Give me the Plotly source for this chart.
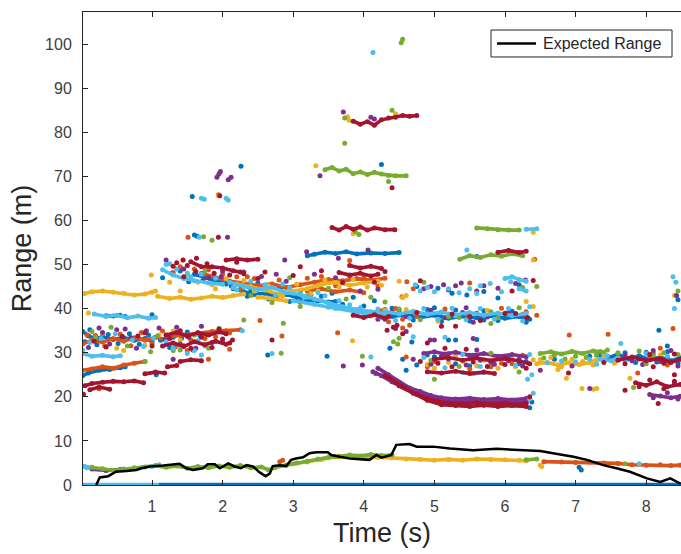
import plotly.graph_objects as go

# ---- radar returns, grouped by colour: tracks (runs of consecutive detections) and loose detections
BLUE_TRACKS = [
    [(0.02, 34.8), (0.1, 33.8), (0.2, 33.2), (0.3, 33.6), (0.45, 33.0), (0.6, 33.4), (0.75, 32.8), (0.9, 33.2), (1.0, 32.6)],
    [(0.02, 24.8), (0.1, 25.4), (0.25, 26.0), (0.4, 26.2), (0.55, 26.6), (0.62, 26.8)],
    [(0.35, 38.4), (0.45, 38.3), (0.55, 38.5)],
    [(1.6, 47.8), (1.75, 47.0), (1.9, 46.4), (2.05, 45.6)],
    [(2.15, 44.5), (2.3, 43.8), (2.45, 43.2), (2.6, 43.5), (2.75, 42.8), (2.9, 43.2), (3.05, 42.5), (3.2, 42.0), (3.35, 41.8), (3.5, 41.5), (3.6, 41.6)],
    [(3.2, 52.0), (3.3, 52.3), (3.45, 52.8), (3.6, 52.5), (3.75, 52.9), (3.9, 52.4), (4.1, 52.6), (4.3, 52.5), (4.5, 52.7)],
    [(4.2, 38.8), (4.4, 38.2), (4.6, 38.6), (4.8, 38.0), (5.0, 38.5), (5.2, 37.8), (5.4, 38.3), (5.6, 37.9), (5.8, 38.4), (6.0, 37.8), (6.2, 38.2), (6.35, 37.6)],
    [(7.3, 29.5), (7.45, 28.8), (7.6, 29.6), (7.75, 28.6), (7.9, 29.3), (8.05, 28.4), (8.2, 29.0), (8.35, 28.2), (8.48, 28.8)],
]
BLUE_DOTS = [
    (1.57, 65.4), (1.6, 56.7), (1.64, 56.4), (2.26, 72.3), (4.25, 72.7), (2.64, 29.5), (3.48, 29.2),
    (0.62, 38.2), (1.0, 38.6), (1.06, 25.0), (4.37, 31.0), (5.2, 32.9), (5.3, 32.9), (5.46, 43.1),
    (5.9, 42.4), (4.75, 45.0), (5.6, 51.8), (7.05, 4.0), (7.08, 3.4), (8.18, 35.1), (6.35, 17.5),
    (6.38, 18.8), (4.55, 28.5), (4.9, 29.5), (5.5, 27.0), (5.9, 28.8), (6.2, 27.5), (1.3, 33.5),
    (1.5, 34.7), (1.15, 47.0), (1.4, 48.5), (2.0, 46.5), (8.45, 42.0), (6.7, 28.5), (8.3, 31.5),
    (3.3, 41.2), (3.7, 40.8), (2.5, 44.6), (2.85, 44.9), (5.1, 39.2), (5.7, 37.4), (4.7, 39.3),
    # clutter clouds
    (0.05, 32.5), (0.12, 35.2), (0.22, 31.8), (0.38, 34.1), (0.52, 32.1), (0.68, 34.3), (0.82, 31.9),
    (0.95, 34.0), (1.12, 32.8), (1.25, 31.2), (1.42, 33.3), (1.58, 30.6), (1.68, 33.9),
    (1.28, 48.0), (1.52, 46.1), (1.82, 46.8), (2.12, 45.2),
    (2.2, 45.5), (2.35, 42.8), (2.5, 45.8), (2.65, 42.2), (2.8, 44.5), (2.95, 41.6), (3.1, 44.0),
    (3.25, 43.2), (3.4, 42.8), (3.55, 43.5), (3.7, 41.0), (3.85, 42.6), (4.0, 40.6), (4.15, 41.8),
    (4.3, 39.8), (2.4, 44.2), (3.0, 42.9),
    (4.3, 37.6), (4.5, 39.6), (4.7, 37.4), (4.9, 39.8), (5.1, 37.1), (5.3, 39.7), (5.5, 37.2),
    (5.7, 39.5), (5.9, 37.3), (6.1, 39.4), (6.3, 36.9), (4.4, 40.1), (5.0, 40.2),
    (5.05, 44.6), (5.25, 43.5), (5.7, 43.9), (6.2, 45.4), (4.68, 32.4), (5.6, 33.0),
    (4.75, 27.2), (5.0, 29.1), (5.3, 27.5), (5.55, 29.4), (5.8, 27.8), (6.05, 29.0), (6.3, 28.0), (4.6, 26.0),
    (7.2, 29.2), (7.35, 30.2), (7.55, 28.0), (7.7, 30.0), (7.85, 27.8), (8.0, 30.1), (8.15, 27.9),
    (8.3, 30.2), (8.45, 27.6),
]

ORANGE_TRACKS = [
    [(0.02, 32.0), (0.15, 32.8), (0.3, 32.4), (0.45, 33.2), (0.6, 32.6), (0.75, 33.4), (0.9, 32.8), (1.05, 33.5), (1.2, 33.0)],
    [(1.25, 33.6), (1.45, 34.0), (1.65, 34.5), (1.85, 34.8), (2.05, 35.0), (2.25, 35.2)],
    [(0.02, 26.0), (0.15, 26.3), (0.3, 26.8), (0.45, 26.5), (0.6, 27.2), (0.75, 27.6), (0.9, 28.0)],
    [(1.7, 48.0), (1.9, 47.0), (2.1, 46.2), (2.3, 45.8), (2.5, 45.2), (2.7, 45.6), (2.9, 44.8), (3.1, 45.4), (3.3, 46.0), (3.5, 46.6), (3.7, 46.3), (3.9, 46.8), (4.1, 46.4), (4.3, 46.9)],
    [(3.2, 44.0), (3.4, 44.5), (3.6, 43.8), (3.8, 44.2), (4.0, 43.6)],
    [(3.95, 39.6), (4.1, 39.0), (4.25, 39.5)],
    [(6.55, 5.3), (6.8, 5.2), (7.0, 5.1), (7.2, 5.2), (7.4, 5.0), (7.6, 4.9), (7.8, 4.6), (8.0, 4.5), (8.2, 4.6), (8.35, 4.4), (8.48, 4.5)],
]
ORANGE_DOTS = [
    (1.51, 56.2), (3.8, 50.9), (2.53, 37.3), (2.1, 34.5), (2.84, 33.8), (2.1, 30.8),
    (3.63, 34.5), (4.61, 46.1), (4.54, 42.7), (6.45, 38.5), (6.42, 51.2), (6.91, 34.0), (7.46, 34.2),
    (8.38, 35.5), (7.88, 25.4), (2.81, 5.3), (2.85, 5.6), (0.25, 21.8), (4.45, 40.0), (4.3, 38.5),
    (5.0, 28.0), (5.5, 28.7), (5.8, 26.8), (6.1, 27.5), (4.35, 37.0), (1.5, 30.5), (1.8, 28.5),
    (8.2, 31.0), (1.94, 65.8), (4.9, 38.9), (5.6, 39.0), (6.25, 38.7), (4.6, 29.0), (8.1, 29.8),
    # clutter clouds
    (0.08, 34.0), (0.2, 33.9), (0.33, 31.5), (0.55, 34.2), (0.7, 31.6), (0.85, 34.6), (1.0, 32.1),
    (1.15, 34.9), (1.33, 31.3), (1.55, 32.9), (1.75, 33.2), (1.9, 33.6), (2.0, 32.4),
    (1.4, 49.5), (1.6, 49.0), (1.8, 48.8), (2.0, 47.8), (2.2, 47.2), (1.3, 48.2),
    (2.25, 44.4), (2.45, 46.8), (2.6, 44.9), (2.8, 46.5), (3.0, 43.4), (3.2, 46.9), (3.4, 47.3),
    (3.6, 45.2), (3.8, 47.4), (4.0, 47.1), (4.2, 45.1), (2.35, 47.2),
    (4.35, 39.0), (4.55, 37.6), (4.75, 38.3), (5.15, 39.9), (5.45, 38.7), (5.95, 40.1), (6.3, 39.3),
    (4.7, 44.5), (5.5, 45.8), (4.55, 35.6), (4.65, 36.2),
    (4.9, 26.8), (5.2, 29.8), (5.5, 26.3), (5.95, 27.6), (6.25, 29.4),
    (7.6, 29.0), (8.05, 28.9), (8.3, 27.2),
]

YELLOW_TRACKS = [
    [(0.05, 43.4), (0.15, 43.8), (0.3, 44.0), (0.45, 43.7), (0.6, 43.5), (0.75, 43.1), (0.9, 43.3), (1.0, 43.7), (1.05, 44.0)],
    [(1.08, 42.8), (1.25, 42.3), (1.4, 42.6), (1.55, 42.1), (1.7, 42.4), (1.85, 42.8), (2.0, 42.5), (2.15, 43.0), (2.3, 43.3)],
    [(2.2, 45.6), (2.4, 45.0), (2.6, 44.2), (2.8, 43.2), (3.0, 44.0), (3.2, 44.5), (3.4, 45.5), (3.6, 46.0), (3.8, 45.3), (4.0, 45.8), (4.2, 46.2)],
    [(2.5, 42.6), (2.7, 42.2), (2.9, 41.8)],
    [(3.0, 4.8), (3.2, 5.2), (3.4, 5.8), (3.6, 6.4), (3.9, 6.2), (4.2, 6.3), (4.4, 6.2), (4.6, 5.9), (4.8, 5.8), (5.0, 5.6), (5.2, 5.8), (5.4, 5.6), (5.6, 5.9), (5.8, 5.8), (6.0, 5.7), (6.2, 5.6), (6.3, 5.5)],
    [(6.45, 27.5), (6.6, 27.8), (6.75, 27.2), (6.9, 27.7), (7.05, 27.3), (7.2, 27.8), (7.3, 28.4)],
]
YELLOW_DOTS = [
    (0.1, 39.0), (1.44, 51.0), (1.94, 65.6), (3.32, 72.4), (3.77, 83.5), (3.79, 82.7), (4.45, 84.2),
    (3.85, 57.0), (3.84, 32.7), (6.4, 57.3), (6.4, 51.0), (6.4, 40.5), (6.5, 4.5), (6.52, 4.2),
    (6.87, 24.2), (6.75, 26.2), (7.09, 21.9), (7.3, 21.9), (7.25, 21.7), (7.77, 24.2), (4.55, 42.5),
    (4.6, 43.0), (5.4, 28.0), (5.7, 28.3), (5.9, 26.5), (6.1, 28.5), (1.1, 34.0), (1.4, 32.8),
    (0.5, 31.0), (0.3, 34.4), (8.2, 29.5), (8.4, 43.0), (1.9, 44.5), (1.4, 44.0), (4.9, 27.3),
    (5.2, 27.8), (0.99, 47.6), (4.3, 39.6), (5.3, 38.4), (6.0, 39.0),
    # clutter clouds
    (0.6, 30.5), (0.9, 31.7), (1.3, 34.9),
    (1.5, 47.6), (1.65, 46.0), (1.85, 45.4), (2.05, 46.8), (1.25, 46.0),
    (2.3, 46.4), (2.45, 44.0), (2.65, 45.1), (2.85, 42.8), (3.05, 45.6), (3.25, 43.4), (3.45, 46.5),
    (3.65, 44.8), (3.85, 46.6), (4.05, 44.9), (4.25, 45.3), (3.35, 44.0),
    (4.6, 39.8), (5.05, 37.2), (5.75, 39.6), (4.5, 46.2), (6.3, 41.6),
    (5.0, 26.5), (5.3, 29.3), (5.6, 27.0), (5.85, 29.1), (6.15, 26.8), (6.4, 28.4),
    (6.5, 28.4), (6.65, 28.9), (6.8, 26.8), (6.95, 28.5), (7.1, 28.0), (7.25, 27.2), (7.4, 29.0), (7.55, 27.6),
]

PURPLE_TRACKS = [
    [(4.13, 25.7), (4.25, 24.8), (4.4, 23.4), (4.55, 22.2), (4.7, 21.0), (4.85, 20.1), (5.0, 19.5), (5.15, 19.1), (5.3, 18.9), (5.5, 19.0), (5.7, 18.7), (5.9, 19.0), (6.1, 18.6), (6.3, 18.9)],
    [(4.2, 26.5), (4.35, 25.0), (4.5, 23.3), (4.65, 22.0), (4.8, 21.2), (4.95, 20.3), (5.1, 19.8), (5.3, 19.5), (5.5, 19.7), (5.7, 19.4), (5.9, 19.6), (6.1, 19.3), (6.3, 19.6)],
    [(4.85, 29.8), (5.0, 30.2), (5.15, 29.7), (5.3, 30.1), (5.5, 29.4), (5.7, 29.8), (5.9, 29.2), (6.1, 29.6), (6.3, 29.1)],
    [(8.05, 20.5), (8.2, 20.2), (8.35, 19.8), (8.48, 20.1)],
    [(0.15, 3.6), (0.35, 3.3), (0.55, 3.5)],
    [(1.92, 69.8), (1.95, 70.6), (1.97, 71.1)],
    [(2.08, 69.2), (2.12, 69.8)],
]
PURPLE_DOTS = [
    (2.07, 56.2), (3.38, 70.1), (3.71, 84.6), (4.1, 83.4), (4.15, 83.0), (2.88, 51.0), (2.76, 47.8),
    (3.64, 51.4), (3.19, 52.9), (4.06, 53.3), (3.71, 27.0), (3.98, 27.2), (4.17, 25.3), (4.94, 32.9),
    (5.0, 32.9), (5.13, 45.4), (5.3, 45.2), (6.29, 46.5), (6.95, 27.0), (7.2, 21.9), (0.3, 34.6),
    (0.5, 35.2), (1.1, 35.6), (1.4, 32.0), (1.7, 36.0), (1.3, 28.5), (1.45, 31.6), (2.0, 48.5),
    (1.2, 51.0), (6.5, 26.0), (7.7, 29.5), (8.1, 30.5), (8.3, 29.0), (8.43, 43.0), (5.6, 44.0),
    (5.7, 45.2), (4.85, 44.5), (6.2, 28.5), (0.7, 33.4), (1.8, 47.0), (8.4, 23.0), (4.6, 38.2),
    (5.4, 39.1), (3.9, 38.9), (4.2, 37.6),
    # clutter clouds
    (0.1, 31.2), (0.25, 35.6), (0.4, 32.0), (0.62, 35.4), (0.78, 31.0), (0.92, 35.0), (1.18, 33.0),
    (1.35, 35.8), (1.52, 33.5), (1.62, 31.0), (1.85, 32.3),
    (1.45, 49.0), (1.72, 46.4), (1.98, 47.2),
    (2.3, 48.3), (2.55, 47.3), (2.9, 46.2), (3.3, 47.8), (3.6, 47.0), (3.95, 44.0), (4.2, 44.4), (3.1, 41.5),
    (4.4, 39.2), (4.65, 38.0), (4.95, 39.6), (5.15, 37.9), (5.45, 40.2), (5.75, 38.1), (6.05, 39.1),
    (6.3, 37.8), (5.55, 36.9),
    (4.95, 45.0), (5.2, 44.2), (5.38, 45.8), (5.9, 44.6), (6.15, 45.7), (4.6, 34.8), (4.45, 35.5), (5.55, 33.2),
    (4.7, 28.5), (4.95, 27.4), (5.2, 28.6), (5.45, 27.2), (5.65, 28.3), (5.85, 27.4), (6.05, 28.2),
    (6.25, 27.0), (5.1, 29.2), (5.6, 30.6),
    (7.5, 28.6), (7.8, 28.2), (7.95, 27.3), (8.2, 28.0), (8.45, 27.0), (8.35, 30.5),
    (8.1, 19.8), (8.3, 20.9), (8.45, 19.5),
]

GREEN_TRACKS = [
    [(0.02, 4.2), (0.15, 4.0), (0.3, 3.7), (0.45, 3.3), (0.6, 3.6), (0.75, 3.9), (0.9, 4.1), (1.05, 4.4), (1.2, 4.0), (1.35, 4.3), (1.5, 3.8), (1.65, 4.2), (1.8, 3.9), (1.95, 4.3), (2.1, 4.0), (2.25, 4.4), (2.4, 3.9), (2.55, 4.1), (2.65, 3.4), (2.75, 4.0), (2.9, 4.5), (3.05, 5.0), (3.2, 5.4), (3.35, 5.9), (3.5, 6.3), (3.65, 6.5), (3.8, 6.8), (3.95, 6.6), (4.1, 6.9), (4.25, 6.7), (4.4, 6.8)],
    [(3.45, 71.5), (3.55, 72.0), (3.65, 71.2), (3.75, 71.6), (3.85, 70.6), (3.95, 71.0), (4.05, 70.4), (4.15, 70.9), (4.25, 70.5), (4.35, 70.2), (4.45, 70.1), (4.6, 70.1)],
    [(5.6, 58.3), (5.75, 58.1), (5.9, 57.9), (6.05, 57.8), (6.2, 57.8)],
    [(5.36, 51.2), (5.5, 52.0), (5.65, 51.6), (5.8, 52.2), (5.95, 51.9), (6.1, 52.4), (6.25, 52.0)],
    [(6.5, 29.8), (6.65, 30.2), (6.8, 29.7), (6.95, 30.3), (7.1, 29.8), (7.25, 30.4), (7.4, 30.1)],
    [(6.3, 5.7), (6.45, 5.9)],
    [(4.53, 100.3), (4.55, 101.1)],
]
GREEN_DOTS = [
    (1.73, 56.3), (1.85, 55.5), (3.73, 83.2), (4.4, 85.0), (3.73, 77.5), (4.35, 68.8), (3.88, 57.4),
    (3.93, 56.8), (2.3, 37.4), (2.86, 36.7), (2.83, 29.9), (3.98, 29.2), (4.42, 32.5), (4.5, 33.3),
    (4.48, 32.0), (7.82, 22.1), (7.7, 4.8), (8.45, 44.0), (8.3, 28.0), (8.1, 29.3), (0.9, 28.0),
    (1.3, 30.5), (1.2, 34.0), (0.2, 33.5), (1.95, 35.5), (5.0, 24.0), (6.45, 45.0), (4.3, 41.5),
    (3.1, 40.5), (1.75, 48.5), (8.0, 27.5), (5.2, 38.2), (5.8, 39.3), (4.1, 38.3),
    # clutter clouds
    (0.15, 34.8), (0.42, 35.8), (0.65, 31.5), (0.98, 30.2), (1.08, 33.8), (1.4, 30.6), (1.6, 34.0), (1.8, 31.0),
    (2.4, 43.0), (2.7, 41.4), (3.2, 42.9), (3.5, 44.6), (3.75, 42.2), (4.1, 42.6), (2.95, 47.0),
    (4.5, 39.9), (4.8, 37.5), (5.35, 38.0), (5.9, 37.9), (6.2, 40.2),
    (4.85, 46.0), (6.25, 44.8), (5.8, 36.6),
    (4.95, 28.3), (5.35, 26.9), (5.8, 29.9), (6.2, 25.6),
    (6.55, 28.8), (6.7, 29.4), (6.85, 28.6), (7.0, 29.2), (7.15, 28.9), (7.3, 29.6), (7.45, 30.6),
    (7.6, 30.0), (7.9, 30.4), (8.25, 30.0), (8.45, 29.6),
]

LIGHTBLUE_TRACKS = [
    [(0.02, 29.8), (0.15, 29.2), (0.3, 29.4), (0.45, 29.1), (0.55, 29.3)],
    [(0.18, 38.8), (0.35, 38.2), (0.5, 38.5), (0.65, 37.9), (0.8, 38.3), (0.95, 37.8), (1.05, 38.0)],
    [(1.15, 48.8), (1.3, 47.6), (1.45, 46.8), (1.6, 46.3), (1.8, 45.8), (2.0, 45.5)],
    [(2.1, 46.0), (2.3, 45.0), (2.5, 44.3), (2.7, 44.8), (2.9, 43.6), (3.1, 43.2), (3.3, 42.2), (3.5, 41.2), (3.7, 40.4), (3.9, 39.8), (4.1, 39.3), (4.3, 38.9)],
    [(3.0, 41.8), (3.3, 41.0), (3.6, 40.0), (3.9, 39.2), (4.2, 38.4)],
    [(4.3, 39.3), (4.5, 38.8), (4.7, 39.4), (4.9, 38.7), (5.1, 39.2), (5.3, 38.6), (5.5, 39.1), (5.7, 38.5), (5.9, 39.0), (6.1, 38.4), (6.3, 38.9)],
    [(6.0, 46.8), (6.1, 47.2), (6.2, 46.6), (6.3, 46.2)],
    [(6.2, 44.5), (6.3, 44.0)],
    [(6.3, 58.0), (6.45, 58.1)],
    [(5.4, 25.5), (5.55, 25.2), (5.7, 25.5)],
    [(7.35, 28.5), (7.5, 28.2), (7.6, 28.8)],
]
LIGHTBLUE_DOTS = [
    (1.7, 65.0), (1.74, 64.8), (2.05, 65.0), (2.08, 64.6), (1.25, 50.2), (1.67, 56.2), (1.5, 48.0),
    (4.13, 98.1), (2.28, 35.0), (4.1, 29.0), (5.46, 53.3), (4.73, 45.4), (5.79, 45.7), (5.5, 44.5),
    (5.6, 43.4), (7.64, 32.1), (7.9, 4.8), (8.38, 47.2), (6.35, 19.5), (6.4, 20.8), (6.32, 24.0),
    (0.05, 4.2), (0.08, 3.9), (1.1, 4.6), (1.0, 4.2), (0.02, 30.6), (1.3, 31.0), (1.6, 30.5),
    (1.75, 31.5), (1.7, 29.5), (8.42, 46.0), (4.8, 44.0), (5.0, 43.8), (5.2, 44.5), (6.6, 27.7),
    (8.4, 40.0), (2.7, 29.8), (3.2, 42.6), (3.55, 40.6),
    # clutter clouds
    (0.12, 32.3), (0.28, 33.2), (0.48, 34.3), (0.72, 32.9), (0.88, 31.4), (1.02, 33.3), (1.2, 32.5),
    (1.38, 31.7), (1.5, 29.8), (1.65, 32.7),
    (1.2, 50.0), (1.35, 49.0), (1.55, 47.2), (1.7, 47.8), (1.9, 46.9), (2.15, 44.8),
    (2.2, 44.2), (2.4, 46.2), (2.6, 45.4), (2.75, 43.1), (2.95, 44.7), (3.15, 42.5), (3.35, 43.6),
    (3.5, 40.3), (3.65, 41.8), (3.8, 40.9), (3.95, 40.2), (4.05, 38.8), (4.2, 39.9), (2.85, 45.6), (3.45, 42.9),
    (4.25, 37.9), (4.45, 37.3), (4.65, 37.8), (4.85, 40.0), (5.05, 37.6), (5.25, 40.1), (5.45, 37.5),
    (5.65, 40.0), (5.85, 37.6), (6.05, 40.0), (6.25, 37.2), (6.35, 40.4),
    (4.9, 44.8), (5.35, 43.6), (5.65, 45.2), (5.95, 43.8), (6.08, 46.1), (5.15, 33.5), (4.7, 33.6),
    (4.85, 28.9), (5.15, 26.6), (5.4, 29.6), (5.65, 26.9), (5.95, 28.5), (6.15, 27.1), (6.35, 29.6), (6.38, 25.0),
    (6.8, 28.1), (7.0, 27.9), (7.2, 28.5), (7.3, 27.4), (7.45, 29.3), (7.7, 28.4), (8.0, 29.8), (8.3, 29.2),
]

RED_TRACKS = [
    [(0.05, 22.5), (0.15, 23.0), (0.3, 23.3), (0.45, 23.5), (0.6, 23.4), (0.75, 23.6), (0.88, 23.2)],
    [(0.12, 21.6), (0.25, 22.2), (0.4, 21.7)],
    [(0.9, 25.2), (1.05, 25.6), (1.18, 25.4)],
    [(1.22, 26.8), (1.35, 27.1)],
    [(1.4, 28.0), (1.55, 28.4), (1.7, 28.2)],
    [(1.15, 31.5), (1.3, 32.2), (1.45, 31.4), (1.6, 32.5), (1.75, 31.8), (1.9, 32.6), (2.05, 31.9)],
    [(1.2, 34.0), (1.35, 34.6), (1.5, 33.8), (1.65, 34.5), (1.8, 34.0), (1.95, 34.7), (2.05, 34.3)],
    [(2.05, 51.0), (2.2, 51.3), (2.35, 51.0), (2.5, 51.2)],
    [(1.55, 50.6), (1.7, 49.5), (1.85, 49.5), (2.0, 49.2), (2.15, 48.6), (2.25, 48.3)],
    [(3.55, 58.4), (3.65, 57.8), (3.75, 58.6), (3.85, 58.0), (3.95, 58.5), (4.05, 57.8), (4.15, 58.3), (4.3, 57.9), (4.44, 57.9)],
    [(3.85, 82.5), (3.95, 81.8), (4.05, 82.4), (4.15, 81.6), (4.25, 82.8), (4.35, 83.2), (4.45, 83.4), (4.55, 83.8), (4.65, 83.6), (4.75, 83.8)],
    [(3.8, 49.8), (3.95, 49.2), (4.1, 49.6), (4.25, 49.1)],
    [(3.65, 48.2), (3.8, 47.6), (3.95, 48.0), (4.1, 47.4), (4.2, 47.8)],
    [(4.3, 24.8), (4.45, 23.2), (4.6, 21.8), (4.75, 20.5), (4.9, 19.6), (5.05, 19.0), (5.2, 18.6), (5.4, 18.4), (5.6, 18.7), (5.8, 18.3), (6.0, 18.6), (6.15, 18.2), (6.3, 18.5)],
    [(4.5, 22.5), (4.7, 20.8), (4.9, 19.2), (5.1, 18.2), (5.3, 18.0), (5.5, 17.8), (5.7, 18.1), (5.9, 17.8), (6.1, 18.0), (6.3, 17.8)],
    [(4.9, 25.7), (5.1, 25.4), (5.3, 25.8), (5.5, 25.3), (5.7, 25.6), (5.85, 25.3)],
    [(5.0, 28.5), (5.2, 28.9), (5.4, 28.3), (5.6, 28.8), (5.8, 28.2), (6.0, 28.7), (6.2, 28.1), (6.35, 27.5)],
    [(5.9, 52.8), (6.05, 53.2), (6.2, 52.7), (6.3, 53.0)],
    [(7.85, 23.2), (8.0, 22.6), (8.15, 23.4), (8.3, 22.3), (8.48, 22.8)],
    [(7.6, 28.3), (7.8, 29.0), (8.0, 28.2), (8.2, 28.7), (8.35, 27.8), (8.48, 28.5)],
    [(3.85, 38.5), (4.0, 38.0), (4.15, 38.6), (4.3, 37.8)],
]
RED_DOTS = [
    (1.63, 51.4), (1.94, 56.2), (1.96, 65.6), (4.4, 67.4), (2.7, 32.9), (2.14, 32.9), (4.8, 46.3),
    (6.4, 46.4), (8.17, 18.5), (0.03, 20.6), (1.44, 51.0), (1.3, 49.6), (4.9, 32.2), (5.1, 36.0),
    (6.1, 44.0), (6.9, 25.4), (7.7, 21.5), (8.4, 25.0), (6.35, 20.0), (1.0, 31.5), (0.8, 33.8),
    (3.1, 49.5), (2.5, 46.8), (4.47, 36.2), (4.33, 35.1), (5.5, 38.2), (6.0, 38.9),
    # clutter clouds
    (0.18, 32.6), (0.35, 31.3), (0.58, 33.7), (0.9, 34.5), (1.25, 33.2), (1.4, 35.0), (1.55, 31.0),
    (1.7, 33.5), (1.85, 31.2), (2.0, 33.1), (2.1, 32.2), (1.95, 35.4),
    (1.35, 50.4), (1.5, 49.8), (1.62, 48.4), (1.78, 50.2), (1.88, 48.0), (2.1, 47.6), (2.2, 50.5), (1.45, 47.2),
    (2.3, 47.9), (2.6, 48.3), (3.0, 47.5), (3.4, 48.6), (3.7, 45.9), (4.15, 46.0), (4.3, 48.4),
    (4.35, 38.2), (4.75, 39.1), (5.25, 38.8), (5.65, 37.3), (6.15, 38.9), (6.32, 38.0),
    (4.42, 35.8), (4.55, 34.3), (5.3, 36.0),
    (4.8, 28.0), (5.05, 27.6), (5.25, 26.8), (5.55, 27.9), (5.75, 26.9), (6.0, 27.3), (6.3, 26.5),
    (5.15, 31.0), (5.45, 30.8),
    (7.4, 27.8), (7.7, 27.5), (7.9, 28.6), (8.05, 29.6), (8.25, 27.6), (8.4, 29.7), (8.1, 26.8),
    (7.9, 22.3), (8.05, 23.8), (8.25, 21.8), (8.4, 23.5),
]

# detections pinned at zero range
ZERO_LIGHTBLUE = [(0.02, 0.0), (1.1, 0.0)]
ZERO_BLUE = [(1.1, 0.0), (8.5, 0.0)]

# expected range of the target over time
EXPECTED_T = [0.21, 0.26, 0.38, 0.49, 0.64, 0.78, 0.85, 0.97, 1.16, 1.39, 1.49, 1.58, 1.72, 1.79, 1.89,
              1.96, 2.08, 2.17, 2.26, 2.34, 2.43, 2.53, 2.61, 2.67, 2.71, 2.81, 2.90, 2.97, 3.04, 3.14,
              3.23, 3.33, 3.49, 3.54, 3.66, 3.80, 4.08, 4.18, 4.25, 4.39, 4.46, 4.65, 4.75, 4.98, 5.22,
              5.55, 5.88, 6.21, 6.50, 6.68, 6.97, 7.16, 7.39, 7.58, 7.77, 8.01, 8.20, 8.34, 8.49]
EXPECTED_R = [0.0, 1.7, 2.0, 3.0, 3.2, 3.4, 3.8, 4.2, 4.4, 4.8, 3.8, 3.4, 3.8, 4.7, 4.7,
              3.8, 4.9, 4.2, 3.8, 4.5, 4.2, 2.8, 2.0, 2.6, 4.3, 4.5, 4.3, 5.7, 6.0, 6.3,
              7.2, 7.4, 7.4, 6.8, 6.4, 6.0, 5.7, 6.8, 6.2, 6.8, 9.1, 9.3, 8.7, 8.7, 8.3,
              7.9, 8.2, 7.9, 7.7, 7.2, 6.4, 5.7, 4.5, 3.8, 3.0, 1.5, 0.7, 1.5, 0.3]

COLORS = {
    "blue": "#0072BD",
    "orange": "#D95319",
    "yellow": "#EDB120",
    "purple": "#7E2F8E",
    "green": "#77AC30",
    "lightblue": "#4DBEEE",
    "red": "#A2142F",
}

SERIES = [
    ("blue", BLUE_TRACKS, BLUE_DOTS),
    ("orange", ORANGE_TRACKS, ORANGE_DOTS),
    ("yellow", YELLOW_TRACKS, YELLOW_DOTS),
    ("purple", PURPLE_TRACKS, PURPLE_DOTS),
    ("green", GREEN_TRACKS, GREEN_DOTS),
    ("lightblue", LIGHTBLUE_TRACKS, LIGHTBLUE_DOTS),
    ("red", RED_TRACKS, RED_DOTS),
]


def join_tracks(tracks):
    """Flatten a list of tracks into x/y lists with gaps between tracks."""
    xs, ys = [], []
    for tr in tracks:
        for t, r in tr:
            xs.append(t)
            ys.append(r)
        xs.append(None)
        ys.append(None)
    return xs, ys


fig = go.Figure()

# zero-range detections
for pts, key in [(ZERO_LIGHTBLUE, "lightblue"), (ZERO_BLUE, "blue")]:
    fig.add_trace(go.Scatter(
        x=[p[0] for p in pts], y=[p[1] for p in pts], mode="lines",
        line=dict(color=COLORS[key], width=4.5), cliponaxis=False,
        showlegend=False, hoverinfo="skip"))

for key, tracks, dots in SERIES:
    c = COLORS[key]
    tx, ty = join_tracks(tracks)
    fig.add_trace(go.Scatter(
        x=tx, y=ty, mode="lines+markers", connectgaps=False,
        line=dict(color=c, width=3.6),
        marker=dict(color=c, size=5, line=dict(width=0)),
        showlegend=False, hoverinfo="skip"))
    fig.add_trace(go.Scatter(
        x=[d[0] for d in dots], y=[d[1] for d in dots], mode="markers",
        marker=dict(color=c, size=5, line=dict(width=0)),
        showlegend=False, hoverinfo="skip"))

fig.add_trace(go.Scatter(
    x=EXPECTED_T, y=EXPECTED_R, mode="lines", name="Expected Range",
    line=dict(color="black", width=2.5), cliponaxis=False, showlegend=False))

axis_color = "#262626"
tick_font = dict(family="Liberation Sans, Arial, sans-serif", size=16, color="#404040")

# legend box (MATLAB-style, compact): frame, line sample and label
LEG_X0, LEG_X1, LEG_Y0, LEG_Y1 = 0.6823, 0.985, 0.9049, 0.9619
LEG_MID = (LEG_Y0 + LEG_Y1) / 2
legend_shapes = [
    dict(type="rect", xref="paper", yref="paper", x0=LEG_X0, x1=LEG_X1, y0=LEG_Y0, y1=LEG_Y1,
         line=dict(color=axis_color, width=1), fillcolor="white", layer="above"),
    dict(type="line", xref="paper", yref="paper", x0=0.6923, x1=0.7575, y0=LEG_MID, y1=LEG_MID,
         line=dict(color="black", width=2.5), layer="above"),
]
legend_label = dict(
    text="Expected Range", xref="paper", yref="paper", x=0.7659, y=LEG_MID,
    xanchor="left", yanchor="middle", showarrow=False,
    font=dict(family="Liberation Sans, Arial, sans-serif", size=16, color="#262626"),
)

fig.update_layout(
    width=681, height=554,
    margin=dict(l=83, r=0, t=12, b=69),
    paper_bgcolor="white", plot_bgcolor="white",
    font=dict(family="Liberation Sans, Arial, sans-serif", color=axis_color),
    showlegend=False,
    shapes=legend_shapes,
    annotations=[legend_label],
    xaxis=dict(
        range=[0.0227, 8.493], tickmode="array", tickvals=[1, 2, 3, 4, 5, 6, 7, 8],
        ticks="inside", ticklen=5, tickcolor=axis_color,
        showline=True, linecolor=axis_color, linewidth=1, mirror="ticks",
        showgrid=False, zeroline=False, tickfont=tick_font, ticklabelstandoff=7,
        title=dict(text="Time (s)", font=dict(size=27, color="#262626"), standoff=8),
    ),
    yaxis=dict(
        range=[0, 107.26], tickmode="array", tickvals=list(range(0, 101, 10)),
        ticks="inside", ticklen=5, tickcolor=axis_color,
        showline=True, linecolor=axis_color, linewidth=1, mirror=False,
        showgrid=False, zeroline=False, tickfont=tick_font, ticklabelstandoff=7,
        title=dict(text="Range (m)", font=dict(size=27, color="#262626"), standoff=5),
    ),
)

fig.write_html("out.html")
